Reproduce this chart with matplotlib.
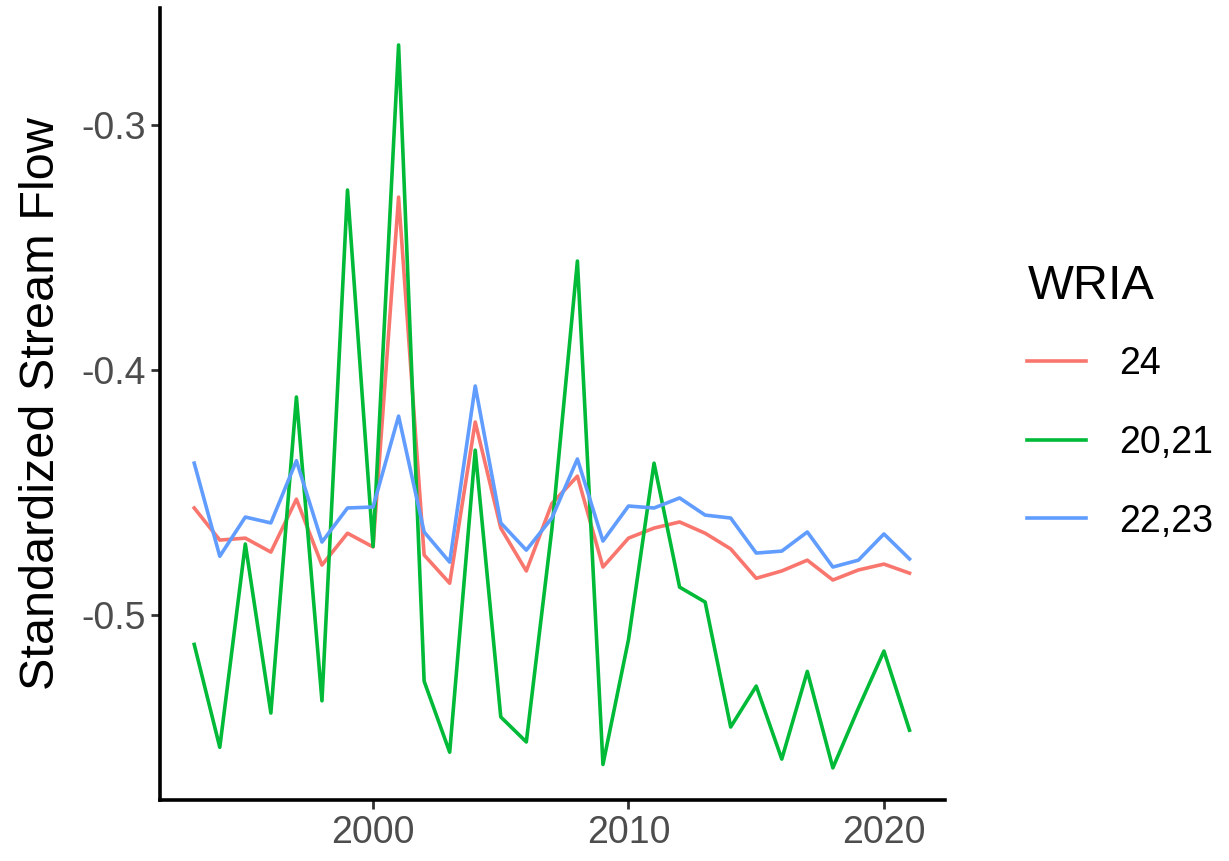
import numpy as np
import matplotlib
matplotlib.use("Agg")
import matplotlib.pyplot as plt

plt.rcParams['font.family'] = ['Liberation Sans', 'DejaVu Sans']

years = np.arange(1993, 2022)

wria_24 = [-0.4563, -0.4694, -0.4686, -0.4743, -0.4527, -0.4796, -0.4666, -0.4722,
           -0.3294, -0.4755, -0.4870, -0.4212, -0.4645, -0.4820, -0.4545, -0.4433,
           -0.4804, -0.4686, -0.4645, -0.4620, -0.4666, -0.4730, -0.4850, -0.4820,
           -0.4776, -0.4857, -0.4816, -0.4792, -0.4829]

wria_20_21 = [-0.5120, -0.5540, -0.4710, -0.5400, -0.4110, -0.5350, -0.3265, -0.4720,
              -0.2673, -0.5270, -0.5560, -0.4327, -0.5416, -0.5518, -0.4650, -0.3555,
              -0.5610, -0.5100, -0.4380, -0.4886, -0.4947, -0.5457, -0.5290, -0.5588,
              -0.5230, -0.5624, -0.5380, -0.5147, -0.5470]

wria_22_23 = [-0.4380, -0.4760, -0.4600, -0.4624, -0.4370, -0.4702, -0.4563, -0.4559,
              -0.4188, -0.4661, -0.4784, -0.4065, -0.4624, -0.4735, -0.4604, -0.4363,
              -0.4698, -0.4555, -0.4563, -0.4522, -0.4592, -0.4604, -0.4747, -0.4739,
              -0.4661, -0.4804, -0.4776, -0.4669, -0.4771]

labels = ['24', '20,21', '22,23']
colors = ['#F8766D', '#00BA38', '#619CFF']

fig = plt.figure(figsize=(12.29, 8.61), dpi=100)
ax = fig.add_axes([160 / 1229, 1 - 800 / 861, 785 / 1229, 792 / 861])

for series, lab, col in zip([wria_24, wria_20_21, wria_22_23], labels, colors):
    ax.plot(years, series, color=col, lw=2.6, label=lab)

ax.set_xlim(1991.66, 2022.39)
ax.set_ylim(-0.5755, -0.2522)
ax.set_xticks([2000, 2010, 2020])
ax.set_yticks([-0.5, -0.4, -0.3])
ax.set_yticklabels(['-0.5', '-0.4', '-0.3'])

for side in ['top', 'right']:
    ax.spines[side].set_visible(False)
for side in ['left', 'bottom']:
    ax.spines[side].set_linewidth(2.6)
    ax.spines[side].set_color('black')

ax.tick_params(axis='both', length=6.5, width=2, color='#333333',
               labelsize=27, labelcolor='#4D4D4D', pad=4)
ax.set_ylabel('Standardized Stream Flow', fontsize=35, labelpad=12)

leg = ax.legend(title='WRIA', loc='center left', bbox_to_anchor=(1.062, 0.5025),
                frameon=False, fontsize=27, title_fontsize=35,
                handlelength=1.55, handletextpad=0.9, labelspacing=1.14,
                alignment='left')
leg._legend_box.sep = 26.4

fig.savefig('out.png', dpi=100)
